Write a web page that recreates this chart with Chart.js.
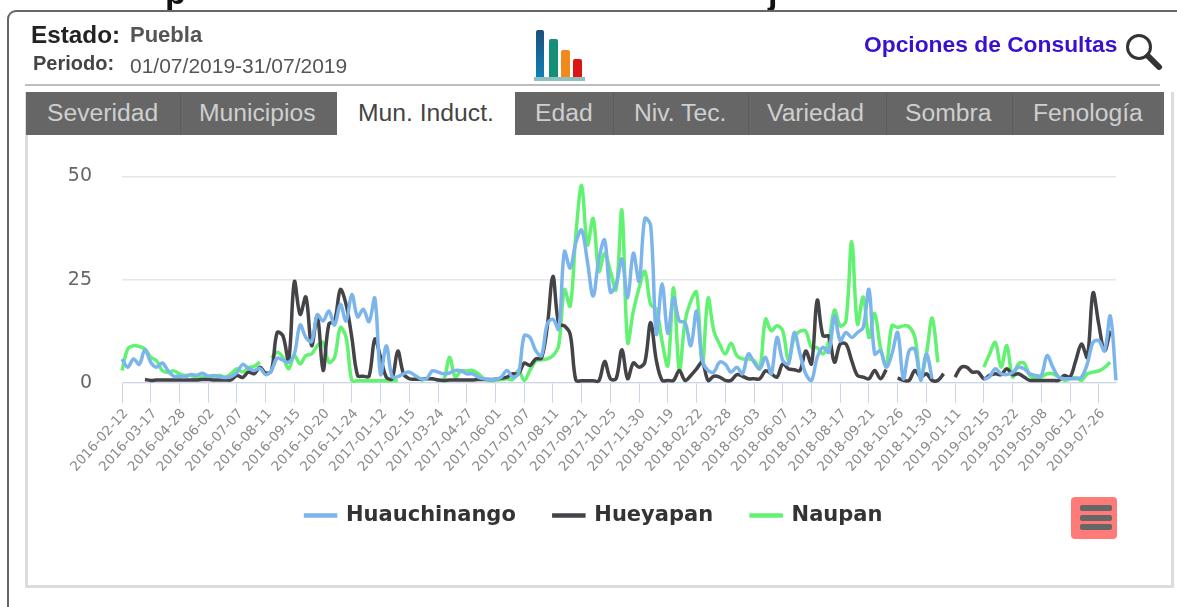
<!DOCTYPE html>
<html lang="es">
<head>
<meta charset="utf-8">
<title>Mun. Induct.</title>
<script src="https://cdn.jsdelivr.net/npm/chart.js@4/dist/chart.umd.min.js"></script>
<style>
html,body{margin:0;padding:0;background:#fff;width:1177px;height:607px;overflow:hidden}
#page{position:absolute;left:0;top:0;width:1177px;height:607px;overflow:hidden;font-family:"Liberation Sans",sans-serif;filter:blur(.5px)}
.abs{position:absolute;white-space:nowrap;line-height:1}
#frame{position:absolute;left:7px;top:10px;width:1300px;height:700px;border:2px solid #666;border-radius:9px;box-sizing:border-box}
#rule{position:absolute;left:25px;top:84px;width:1135px;height:2px;background:#bdbdbd}
#panel{position:absolute;left:25px;top:92px;width:1149px;height:496px;border:3px solid #dcdcdc;border-top:none;box-sizing:border-box}
#tabs{position:absolute;left:26px;top:92px;width:1138px;height:43px;background:#666}
.sep{position:absolute;top:92px;width:1px;height:43px;background:#5c5c5c}
#active{position:absolute;left:337px;top:92px;width:178px;height:43px;background:#fff}
.tab{color:#cfcfcf;font-size:24.7px;top:101px}
#chartBox{position:absolute;left:26px;top:135px;width:1139px;height:450px}
#menu{position:absolute;left:1071px;top:497px;width:46px;height:42px;background:#ff7b78;border-radius:4px}
#menu i{position:absolute;left:9px;width:32px;height:6px;border-radius:2px;background:#666}
.bar{position:absolute;border-radius:2px 2px 0 0}
</style>
</head>
<body>
<div id="page">
  <div class="abs" style="left:165px;top:-25px;font-size:34px;font-weight:bold;color:#111">p</div>
  <div class="abs" style="left:768px;top:-25px;font-size:34px;font-weight:bold;color:#111">j</div>
  <div id="frame"></div>
  <div class="abs" style="left:31px;top:23px;font-size:24.3px;font-weight:bold;color:#222">Estado:</div>
  <div class="abs" style="left:130px;top:24px;font-size:22px;font-weight:bold;color:#555">Puebla</div>
  <div class="abs" style="left:33px;top:53px;font-size:20px;font-weight:bold;color:#444">Periodo:</div>
  <div class="abs" style="left:130px;top:55px;font-size:21px;color:#555">01/07/2019-31/07/2019</div>

  <div class="bar" style="left:536px;top:30px;width:8px;height:47px;background:linear-gradient(#1c4f7c,#0f7fb5)"></div>
  <div class="bar" style="left:549px;top:39px;width:9px;height:38px;background:#14907a"></div>
  <div class="bar" style="left:561px;top:50px;width:9px;height:27px;background:#f08a1a"></div>
  <div class="bar" style="left:573px;top:59px;width:9px;height:18px;background:#dc1414"></div>
  <div style="position:absolute;left:534px;width:51px;height:4px;background:#8fc0c0;top:77px"></div>

  <div class="abs" style="left:864px;top:33px;font-size:22.8px;font-weight:bold;color:#3a10cf">Opciones de Consultas</div>
  <svg style="position:absolute;left:1123px;top:32px" width="42" height="40" viewBox="0 0 42 40">
    <circle cx="16" cy="15" r="11.5" fill="none" stroke="#333" stroke-width="3"/>
    <line x1="25" y1="24" x2="36" y2="35" stroke="#333" stroke-width="6" stroke-linecap="round"/>
  </svg>
  <div id="rule"></div>

  <div id="panel"></div>
  <div id="tabs"></div>
  <div class="sep" style="left:180px"></div>
  <div class="sep" style="left:613px"></div>
  <div class="sep" style="left:748px"></div>
  <div class="sep" style="left:886px"></div>
  <div class="sep" style="left:1012px"></div>
  <div id="active"></div>
  <div class="abs tab" style="left:47px">Severidad</div>
  <div class="abs tab" style="left:199px">Municipios</div>
  <div class="abs tab" style="left:358px;color:#444">Mun. Induct.</div>
  <div class="abs tab" style="left:535px">Edad</div>
  <div class="abs tab" style="left:634px">Niv. Tec.</div>
  <div class="abs tab" style="left:767px">Variedad</div>
  <div class="abs tab" style="left:905px">Sombra</div>
  <div class="abs tab" style="left:1033px">Fenología</div>

  <div id="chartBox"><canvas id="chart" width="1139" height="450"></canvas></div>
  <div id="menu"><i style="top:8px"></i><i style="top:18px"></i><i style="top:27px"></i></div>
</div>

<script>
const tickLabels = ["2016-02-12","2016-03-17","2016-04-28","2016-06-02","2016-07-07","2016-08-11","2016-09-15","2016-10-20","2016-11-24","2017-01-12","2017-02-15","2017-03-24","2017-04-27","2017-06-01","2017-07-07","2017-08-11","2017-09-21","2017-10-25","2017-11-30","2018-01-19","2018-02-22","2018-03-28","2018-05-03","2018-06-07","2018-07-13","2018-08-17","2018-09-21","2018-10-26","2018-11-30","2019-01-11","2019-02-15","2019-03-22","2019-05-08","2019-06-12","2019-07-26"];

const huauchinango = [
5.8,3.8,5.8,4.5,8,5,3.8,4.8,3,1.6,
1.6,1.5,2,1.8,2.3,1.6,1.8,1.5,1.3,1.5,
2.5,4.5,3.5,3,3.5,2,3,6,5.5,5,
7,14,11,10,16.5,15,17.4,14,19,15,
21.4,16,17.8,14.8,20.5,2,9,1.5,1.5,2.2,
2.6,1.8,1,1,2.9,2.6,2.2,2.4,3,2.9,
2.2,2.2,1.4,1,.8,.8,1.4,3,1.4,2.2,
11.4,11,7.8,6.6,14.2,15.4,13,31.8,27.8,34,
37,29.4,21,30,34.6,22,23.8,30,20.6,31.4,
24.6,39.8,38.2,11.8,24,12,20.6,15,14.6,9,
17.4,5.4,3,2.6,5,4.5,2.6,3.8,2.2,7,
5,3.4,6.2,2.2,11,5.4,4.6,12.2,7,2.2,
.6,6.2,8.6,7.4,16.2,10.2,12.2,11,12.2,13.4,
22.6,7,7.8,3.8,7,12.2,1,7.8,8.2,.6,
7,1,null,null,null,null,null,null,null,null,
.8,1.5,3.4,2.2,2,2.5,3.8,3.4,2.2,1.8,
1.8,6.6,3.8,1.4,1,1,1,1.4,4.6,9.8,
10.2,7.8,16.2,.6];

const hueyapan = [
null,null,null,null,.8,.6,.7,.7,.7,.7,
.7,.7,.7,.7,.8,.8,.7,.7,.7,.7,
1.8,1.3,2.6,2.2,3.8,2.4,2.9,12.2,11.4,5.4,
24.5,16.6,20.8,9,16.2,3,14.2,15,22.6,19,
11,1.8,1.6,1.6,10.6,6.2,1.4,1,7.7,2.2,
1,.9,.9,1,1,.7,.6,.7,.7,.7,
.7,.7,.8,.8,.8,.9,1.1,1.4,2.2,2.2,
4.8,4.2,5.8,6,13.4,25.8,14.2,13.8,11.8,.6,
.5,.5,.5,.5,5.2,1,1,8,1,4.8,
3.8,5,14.6,5.4,.6,.6,.6,3,.6,1.8,
3.4,5,.6,1.6,1.4,.6,.6,2,1.6,1,
1,1,2.9,2.2,1.4,4.6,3.4,3.2,3,7.7,
4.6,20,11.4,11.3,5,9.4,9.4,5.4,1.8,1.4,
1,3,1,3.2,null,1.2,.6,.6,3,1.4,
2.2,.6,.6,2.2,null,1.4,3.7,3.8,2.6,2.6,
1,1.8,2.2,2,3.4,2,2.2,1.4,.6,.6,
.6,.6,.6,.6,1.8,1.4,5.4,9.4,6.2,21.8,
14.2,7.8,12.6,null];

const naupan = [
3,8.2,9,8.8,8.2,6.2,5.4,3,2.5,2.9,
2.2,1.8,1.8,1,1.4,1.6,1.6,1.8,1.4,2.2,
3.4,2.6,3.7,4,5,null,6,7.4,6.2,3.4,
6.6,4.6,6.6,7,9,9.8,5,6.2,13.4,11,
.6,.5,.5,.5,.5,.5,.5,.5,.5,null,
null,null,.5,1,1,.7,.8,6.2,1.4,2.9,
2.9,3,2.2,1,.6,.6,.8,1,.8,3,
.6,3,5.3,5.6,5.8,6.6,9,22.6,18.6,36,
47.8,33.4,39.8,27,31.4,27,22.6,41.8,9.8,17.4,
23,27,19,17.8,10,4.2,23,3,15,19.8,
22,4.6,20.5,12.6,9.4,7,9.6,6.6,5.8,5.8,
5.4,3.4,15.4,12.6,13.8,12.6,5.4,11,12.5,12.5,
8.6,8.5,7,10,17.6,13.8,15,34.2,14.2,20.8,
11,16.8,8.6,4.2,13.8,13.4,13.8,13.6,11,1.5,
7,15.7,5,null,null,null,null,null,null,null,
3.8,7,9.8,3.8,9,1.4,4.6,4.8,1.8,1,
1.4,2.2,2.2,1.4,.6,1,1.3,.6,2.2,2.6,
2.9,3.7,5,null];

const categories = [];
huauchinango.forEach((_, i) => categories.push(i % 5 === 0 ? tickLabels[i / 5] : ''));

const series = (label, data, color) => ({
  label, data, borderColor: color, backgroundColor: color, borderWidth: 3.5,
  pointRadius: 0, pointHoverRadius: 0, tension: 0.35, spanGaps: false, clip: false
});

new Chart(document.getElementById('chart'), {
  type: 'line',
  data: {
    labels: categories,
    datasets: [
      series('Huauchinango', huauchinango, '#7cb5ec'),
      series('Hueyapan', hueyapan, '#434348'),
      series('Naupan', naupan, '#62f272')
    ]
  },
  options: {
    responsive: false,
    animation: false,
    layout: { padding: { top: 30, right: 49, bottom: 49, left: 46 } },
    plugins: {
      tooltip: { enabled: false },
      legend: {
        position: 'bottom',
        labels: {
          boxWidth: 30, boxHeight: 1, padding: 38,
          color: '#333',
          font: { family: '"DejaVu Sans"', size: 21, weight: 'bold' }
        }
      }
    },
    scales: {
      x: {
        offset: false,
        afterFit(s) { s.height -= 11; s._computeLabelArea = () => undefined; },
        border: { display: true, color: '#ccd6eb', width: 1 },
        grid: { drawOnChartArea: false, drawTicks: true, tickLength: 20, tickColor: '#ccd6eb', color: '#ccd6eb' },
        ticks: {
          autoSkip: true, maxTicksLimit: 35, autoSkipPadding: 0,
          minRotation: 48, maxRotation: 48, padding: 3, labelOffset: 4,
          color: '#8a8a8a', font: { family: '"DejaVu Sans"', size: 13.5 }
        }
      },
      y: {
        min: 0, max: 50,
        afterFit(s) { s.width = 50; s._computeLabelArea = () => undefined; },
        border: { display: false },
        grid: { color: '#e6e6e6', lineWidth: 1.5, drawTicks: false },
        ticks: { stepSize: 25, padding: 30, color: '#666', font: { family: '"DejaVu Sans"', size: 19 } }
      }
    }
  }
});
</script>
</body>
</html>
